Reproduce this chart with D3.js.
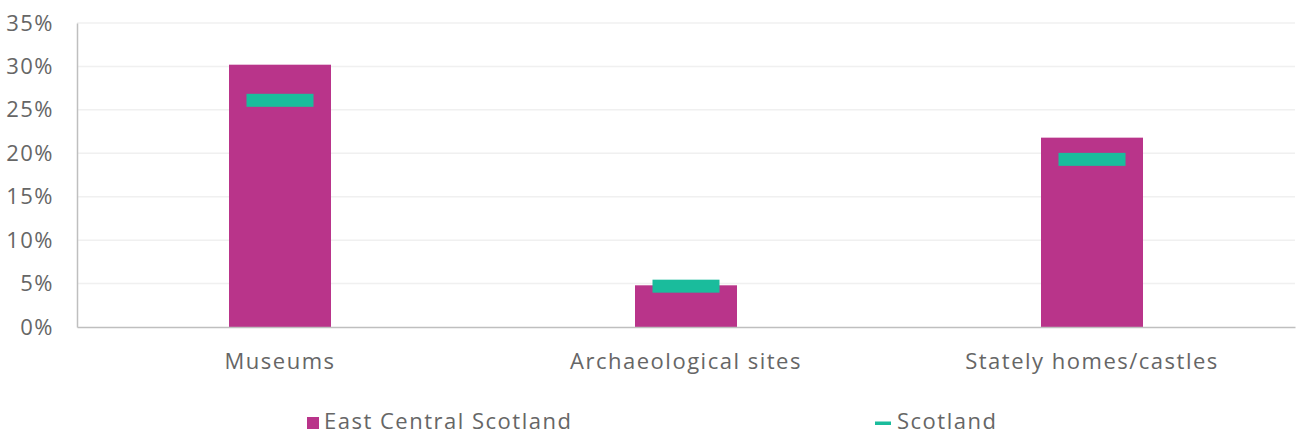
<!DOCTYPE html>
<html><head><meta charset="utf-8">
<script src="https://cdn.jsdelivr.net/npm/d3@7"></script>
<style>body{margin:0;background:#fff}svg{display:block}text{font-family:"Open Sans",sans-serif;fill:#666;letter-spacing:1.5px}</style>
</head><body><svg id="c" width="1299" height="436"></svg>
<script>
const categories = ["Museums", "Archaeological sites", "Stately homes/castles"];
const regionValues = [30.2, 4.8, 21.8];
const scotlandValues = [26.1, 4.7, 19.3];
const yTicks = [0, 5, 10, 15, 20, 25, 30, 35];
const seriesNames = ["East Central Scotland", "Scotland"];

(function () {
const svg = d3.select("#c");
const mLeft = 77, mRight = 1295, mTop = 23, mBottom = 327;
const fs = "22px";
const x = d3.scaleBand().domain(categories).range([mLeft, mRight]);
const y = d3.scaleLinear().domain([0, 35]).range([mBottom, mTop]);

svg.append("g").selectAll("line").data(yTicks.filter(d => d > 0)).join("line")
  .attr("x1", mLeft).attr("x2", mRight).attr("y1", d => y(d)).attr("y2", d => y(d))
  .attr("stroke", "#f0f0f0").attr("stroke-width", 1.5);

const yAxis = svg.append("g").attr("transform", `translate(${mLeft},0)`)
  .call(d3.axisLeft(y).tickValues(yTicks).tickFormat(d => d + "%").tickSize(0).tickPadding(23));
yAxis.select(".domain").attr("stroke", "#bfbfbf").attr("stroke-width", 1.5);
yAxis.selectAll("text").style("font-size", fs).attr("fill", "#666");

const barW = 102, markW = 67, markH = 13;
svg.append("g").selectAll("rect").data(categories).join("rect")
  .attr("x", d => x(d) + x.bandwidth() / 2 - barW / 2)
  .attr("width", barW)
  .attr("y", (d, i) => y(regionValues[i]))
  .attr("height", (d, i) => y(0) - y(regionValues[i]))
  .attr("fill", "#B9348A");

svg.append("g").selectAll("rect").data(categories).join("rect")
  .attr("x", d => x(d) + x.bandwidth() / 2 - markW / 2)
  .attr("width", markW)
  .attr("y", (d, i) => y(scotlandValues[i]) - markH / 2)
  .attr("height", markH)
  .attr("fill", "#1ABC9C");

const xAxis = svg.append("g").attr("transform", `translate(0,${mBottom})`)
  .call(d3.axisBottom(x).tickSize(0).tickPadding(26));
xAxis.select(".domain").attr("stroke", "#bfbfbf").attr("stroke-width", 1.5);
xAxis.selectAll("text").style("font-size", fs).attr("fill", "#666");

const leg = svg.append("g");
leg.append("rect").attr("x", 307).attr("y", 417).attr("width", 12).attr("height", 12).attr("fill", "#B9348A");
leg.append("text").attr("x", 324).attr("y", 421).attr("dy", "0.35em").style("font-size", fs).attr("fill", "#666").text(seriesNames[0]);
leg.append("rect").attr("x", 875).attr("y", 421.5).attr("width", 16).attr("height", 3.5).attr("fill", "#1ABC9C");
leg.append("text").attr("x", 897).attr("y", 421).attr("dy", "0.35em").style("font-size", fs).attr("fill", "#666").text(seriesNames[1]);
})();
</script></body></html>
